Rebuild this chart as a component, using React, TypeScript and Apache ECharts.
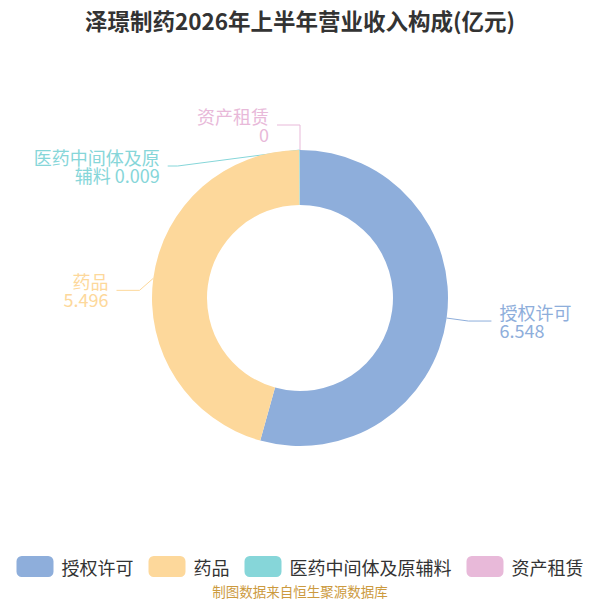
import React, { useEffect, useRef } from "react";
import * as echarts from "echarts";

const TITLE = "泽璟制药2026年上半年营业收入构成(亿元)";
const SOURCE = "制图数据来自恒生聚源数据库";
const categories = ["授权许可", "药品", "医药中间体及原辅料", "资产租赁"];
const values = [6.548, 5.496, 0.009, 0];
const colors = ["#8eaedb", "#fdd89b", "#86d6d9", "#e8b9d9"];
// small nudges of label text (dx, dy) to match the reference layout
const labelShift = [
  [0, 0],
  [0, 15],
  [-10, 0],
  [0, -3],
];

export default function App() {
  const ref = useRef<HTMLDivElement>(null);
  useEffect(() => {
    document.body.style.margin = "0";
    if (!ref.current) return;
    const chart = echarts.init(ref.current, null, { renderer: "svg" });
    chart.setOption({
      animation: false,
      color: colors,
      title: {
        text: TITLE,
        left: "center",
        top: 4,
        textStyle: { fontSize: 22.5, fontWeight: "bold", color: "#333", fontFamily: "Noto Sans CJK SC" },
      },
      legend: {
        bottom: 18,
        left: "center",
        itemWidth: 37,
        itemHeight: 21,
        itemGap: 15,
        itemStyle: { borderRadius: 4 },
        textStyle: { fontSize: 18, color: "#333", fontFamily: "Noto Sans CJK SC", padding: [0, 0, 0, 3] },
        data: categories,
      },
      graphic: [
        {
          type: "text",
          left: "center",
          top: 584,
          style: { text: SOURCE, fill: "#cc9a3e", fontSize: 13.5, fontFamily: "Noto Sans CJK SC" },
        },
      ],
      series: [
        {
          type: "pie",
          center: [300, 298],
          radius: [93, 148],
          startAngle: 90,
          clockwise: true,
          avoidLabelOverlap: true,
          label: {
            show: true,
            fontSize: 18,
            lineHeight: 18,
            fontFamily: "Noto Sans CJK SC",
            color: "inherit",
            distanceToLabelLine: 8,
            formatter: (p: any) => {
              const n: string = p.name.length > 7 ? p.name.slice(0, 7) + "\n" + p.name.slice(7) + " " : p.name + "\n";
              return n + p.value;
            },
          },
          labelLine: { show: true, length: 22, length2: 23 },
          labelLayout: (params: any) => {
            const s = labelShift[params.dataIndex] || [0, 0];
            const pts = params.labelLinePoints;
            const out: any = { dx: s[0], dy: s[1] };
            if (pts && pts.length === 3) {
              out.labelLinePoints = [
                [pts[0][0], pts[0][1]],
                [pts[1][0], pts[1][1] + s[1]],
                [pts[2][0] + s[0], pts[2][1] + s[1]],
              ];
            }
            return out;
          },
          data: categories.map((c, i) => ({ name: c, value: values[i] })),
        },
      ],
    });
    return () => chart.dispose();
  }, []);
  return <div ref={ref} style={{ width: 600, height: 600 }} />;
}
